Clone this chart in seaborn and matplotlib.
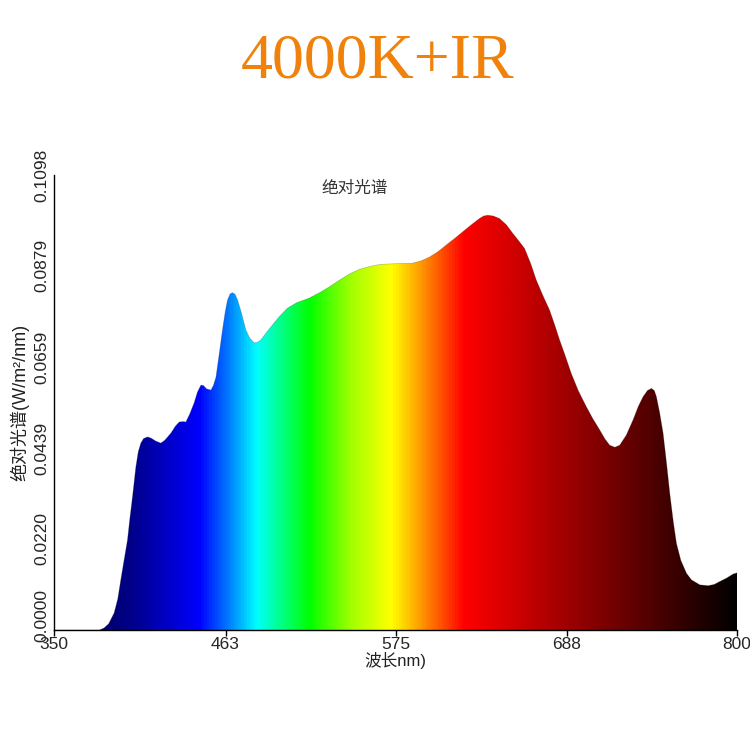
import numpy as np
import pandas as pd
import seaborn as sns
import matplotlib.pyplot as plt
import matplotlib.transforms as mtransforms
from matplotlib.colors import LinearSegmentedColormap
from matplotlib.patches import Polygon

# spectrum
wavelength = [350, 380, 383, 386, 389.6, 392, 394, 396, 398.4, 400, 401.7, 403.9,
              405.5, 407.2, 409, 411.6, 414, 417, 420.4, 423, 427, 430, 432.5,
              435, 436.9, 439.5, 442.3, 444.5, 446.8, 448.5, 450.5, 453.4, 455,
              456.7, 458.8, 461, 462.8, 464.3, 466, 467.6, 469.3, 471, 473.5,
              476.4, 479, 481.9, 484, 486.3, 490, 495, 498.4, 503.9, 510, 518.2,
              525, 531.4, 538, 544.6, 551, 557.8, 564.4, 575, 586, 592, 597.4,
              603, 608.4, 614, 619.3, 625, 630.3, 633, 635.8, 639.5, 643.5, 648,
              652.3, 656, 660, 664, 667.7, 672, 676.5, 680, 683.1, 687, 690.8,
              695.5, 700.7, 705, 709.5, 713, 716.1, 719.5, 722.7, 727, 731.5,
              735, 738.1, 741, 743.6, 745.5, 746.9, 749, 751.3, 753.5, 755.7,
              758, 760.1, 763, 766.7, 770, 775.5, 781, 785, 788.6, 793, 797.4, 800]
irradiance = [0.0, 0.0, 0.0005, 0.0015, 0.0041, 0.0075, 0.0121, 0.0165, 0.0217,
              0.0270, 0.0321, 0.0393, 0.0430, 0.0451, 0.0462, 0.0466, 0.0463,
              0.0456, 0.0451, 0.0458, 0.0475, 0.0492, 0.0502, 0.0503, 0.0502,
              0.0522, 0.0548, 0.0574, 0.0591, 0.0590, 0.0582, 0.0579, 0.0590,
              0.0610, 0.0665, 0.0724, 0.0768, 0.0796, 0.0811, 0.0814, 0.0810,
              0.0796, 0.0765, 0.0724, 0.0704, 0.0693, 0.0694, 0.0700, 0.0718,
              0.0741, 0.0756, 0.0777, 0.0790, 0.0801, 0.0814, 0.0828, 0.0844,
              0.0859, 0.0870, 0.0877, 0.0882, 0.0884, 0.0885, 0.0891, 0.0900,
              0.0913, 0.0929, 0.0945, 0.0961, 0.0978, 0.0993, 0.0999, 0.1001,
              0.0999, 0.0993, 0.0978, 0.0957, 0.0940, 0.0921, 0.0885, 0.0845,
              0.0808, 0.0772, 0.0735, 0.0700, 0.0660, 0.0619, 0.0577, 0.0539,
              0.0510, 0.0483, 0.0461, 0.0446, 0.0441, 0.0446, 0.0470, 0.0507,
              0.0540, 0.0563, 0.0578, 0.0583, 0.0578, 0.0563, 0.0525, 0.0475,
              0.0405, 0.0330, 0.0262, 0.0209, 0.0168, 0.0137, 0.0121, 0.0109,
              0.0107, 0.0110, 0.0117, 0.0125, 0.0135, 0.0138]

y_ticks = [0.0, 0.0220, 0.0439, 0.0659, 0.0879, 0.1098]
y_ticklabels = ["0.0000", "0.0220", "0.0439", "0.0659", "0.0879", "0.1098"]
x_ticks = [350, 463, 575, 688, 800]

# colour stops of the rainbow fill
stop_nm = [350, 400, 445, 465, 483, 500, 518, 545, 572, 590, 620, 800]
stop_colors = ["#000040", "#000088", "#0000ff", "#0080ff", "#00ffff", "#00ff80",
               "#00ff00", "#a0ff00", "#ffff00", "#ffa000", "#ff0000", "#000000"]

df = pd.DataFrame({"nm": wavelength, "val": irradiance})

sns.set_theme(style="white")
plt.rcParams["font.family"] = ["Liberation Sans", "Noto Sans CJK SC", "DejaVu Sans"]

fig = plt.figure(figsize=(7.5, 7.5), dpi=100)
ax = fig.add_axes([0.072, 0.16, 0.9107, 0.6067])

xmin, xmax = 350, 800
ymax = 0.1098
pos = [(n - xmin) / (xmax - xmin) for n in stop_nm]
cmap = LinearSegmentedColormap.from_list("spec", list(zip(pos, stop_colors)))

grad = np.linspace(xmin, xmax, 900).reshape(1, -1)
im = ax.imshow(grad, cmap=cmap, extent=[xmin, xmax, 0, ymax], aspect="auto",
               origin="lower", vmin=xmin, vmax=xmax, zorder=1)
verts = list(zip(df["nm"], df["val"])) + [(xmax, 0), (xmin, 0)]
clip = Polygon(verts, closed=True, facecolor="none", edgecolor="none")
ax.add_patch(clip)
im.set_clip_path(clip)

sns.lineplot(data=df, x="nm", y="val", ax=ax, color="#333333", linewidth=0.5,
             alpha=0.3, zorder=2)

ax.set_xlim(xmin, xmax)
ax.set_ylim(0, ymax)
ax.set_xticks(x_ticks)
ax.set_xticklabels([str(t) for t in x_ticks], fontsize=12.5)
ax.set_yticks(y_ticks)
ax.set_yticklabels(y_ticklabels, fontsize=12.5, rotation=90, va="center")
ax.tick_params(axis="x", length=4, width=1, color="black", pad=1, direction="out",
               bottom=True)
ax.tick_params(axis="y", length=0, pad=3)

# the zero label sits a bit higher in the original
zero_lbl = ax.get_yticklabels()[0]
zero_lbl.set_transform(zero_lbl.get_transform() +
                       mtransforms.ScaledTranslation(0, 14 / 100, fig.dpi_scale_trans))

for s in ["top", "right"]:
    ax.spines[s].set_visible(False)
for s in ["left", "bottom"]:
    ax.spines[s].set_color("black")
    ax.spines[s].set_linewidth(1)

ax.set_xlabel("波长nm)", fontsize=12, labelpad=0, color="#222222")
ax.set_ylabel("绝对光谱(W/m²/nm)", fontsize=13, labelpad=4, color="#222222")

ax.text(0.44, 0.97, "绝对光谱", transform=ax.transAxes, ha="center", va="center",
        fontsize=12, color="#333333")

fig.text(0.503, 0.917, "4000K+IR", ha="center", va="center", fontsize=46,
         color="#f0820c", family=["Liberation Serif", "DejaVu Serif"])

fig.savefig("out.png", dpi=100)
